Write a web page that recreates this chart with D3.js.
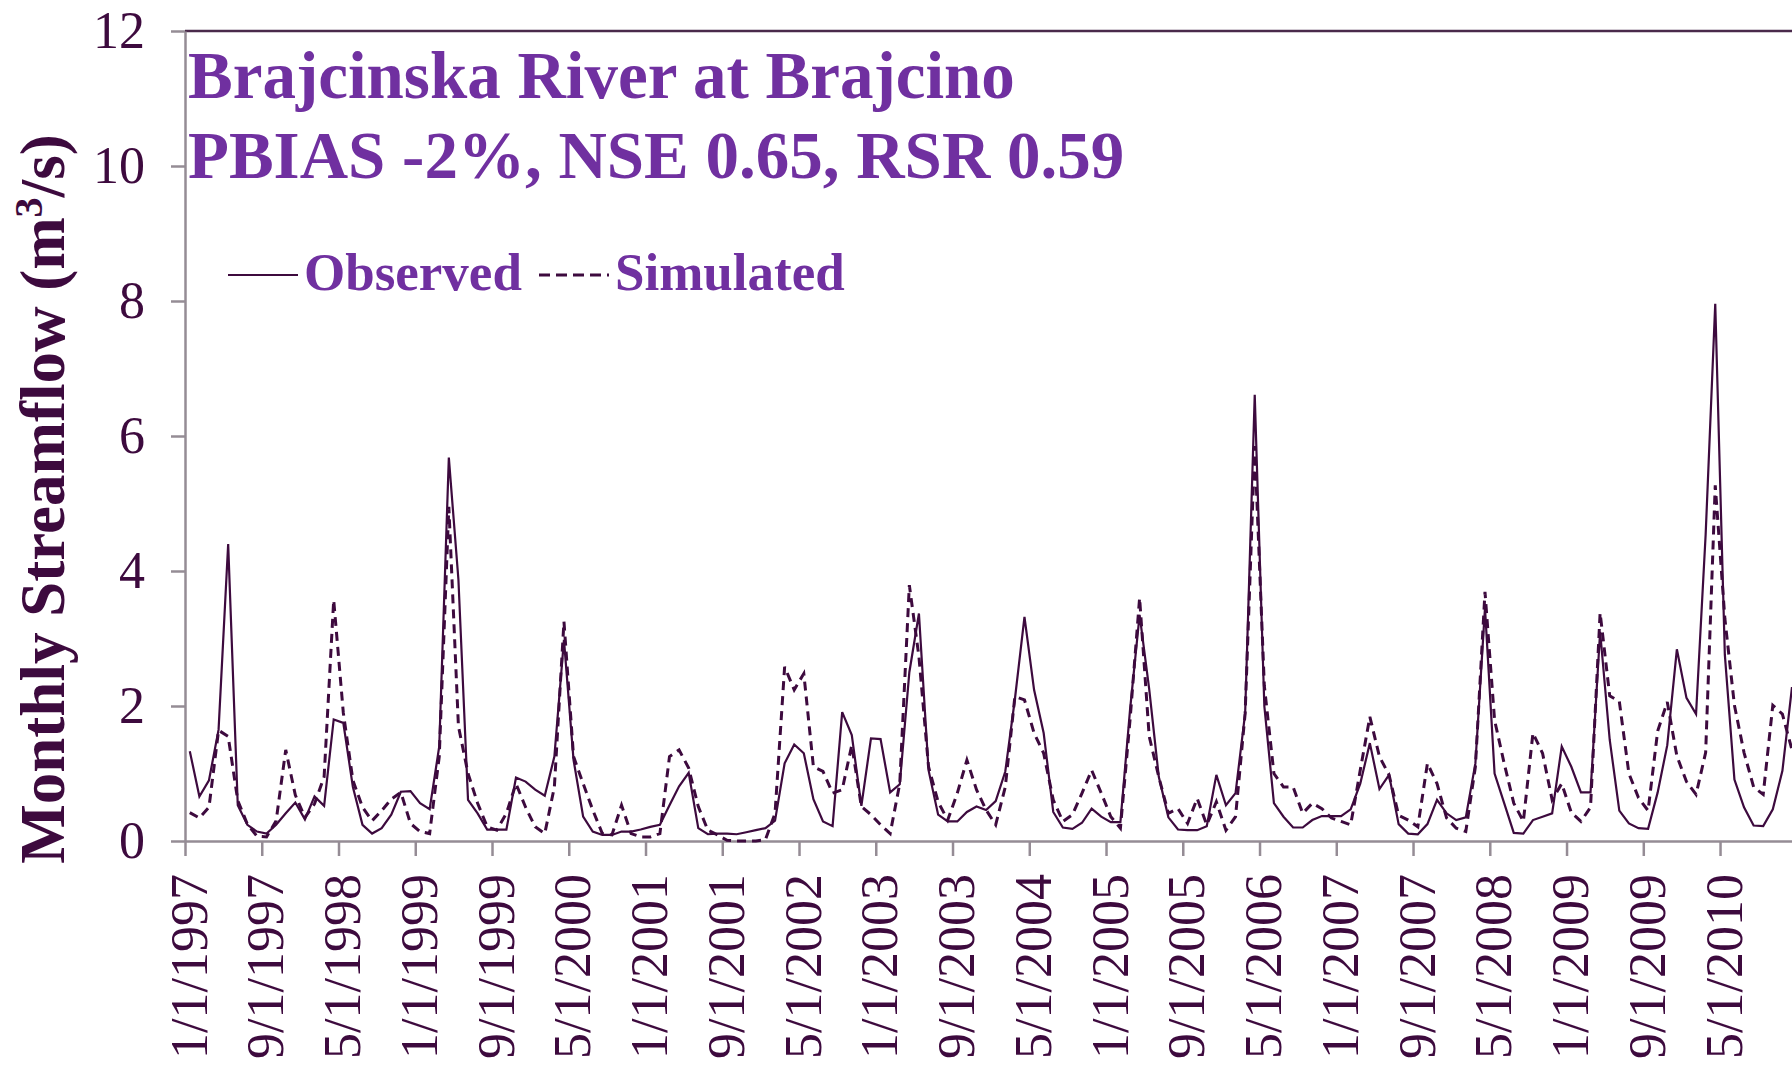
<!DOCTYPE html>
<html>
<head>
<meta charset="utf-8">
<script src="https://cdn.jsdelivr.net/npm/d3@7/dist/d3.min.js"></script>
<style>
  body { margin: 0; background: white; }
  #chart_streamflow { width: 1792px; height: 1065px; }
</style>
</head>
<body>
<div id="chart_streamflow"></div>
<script>
// Monthly streamflow (m3/s), Jan 1997 - Dec 2010
var observed = [
  1.33, 0.66, 0.90, 1.65, 4.40, 0.53, 0.24, 0.14, 0.11, 0.24, 0.41, 0.57,
  0.32, 0.66, 0.52, 1.80, 1.75, 0.80, 0.24, 0.11, 0.19, 0.39, 0.73, 0.74,
  0.56, 0.47, 1.40, 5.68, 3.87, 0.61, 0.41, 0.17, 0.17, 0.17, 0.94, 0.88,
  0.76, 0.67, 1.25, 2.98, 1.20, 0.36, 0.14, 0.09, 0.09, 0.14, 0.14, 0.17,
  0.21, 0.24, 0.53, 0.81, 1.01, 0.19, 0.10, 0.11, 0.11, 0.10, 0.13, 0.16,
  0.19, 0.30, 1.15, 1.43, 1.30, 0.62, 0.29, 0.22, 1.91, 1.57, 0.52, 1.52,
  1.51, 0.72, 0.84, 2.50, 3.37, 1.05, 0.39, 0.29, 0.29, 0.43, 0.51, 0.46,
  0.59, 1.03, 2.10, 3.32, 2.24, 1.60, 0.43, 0.20, 0.18, 0.27, 0.48, 0.36,
  0.28, 0.28, 1.94, 3.35, 2.25, 0.95, 0.35, 0.17, 0.16, 0.16, 0.22, 0.98,
  0.53, 0.71, 1.89, 6.61, 2.00, 0.56, 0.36, 0.20, 0.20, 0.31, 0.37, 0.37,
  0.37, 0.47, 0.85, 1.45, 0.77, 0.98, 0.25, 0.11, 0.10, 0.25, 0.61, 0.41,
  0.31, 0.35, 1.15, 3.45, 1.00, 0.56, 0.12, 0.11, 0.31, 0.36, 0.41, 1.40,
  1.10, 0.72, 0.72, 3.10, 1.50, 0.45, 0.26, 0.19, 0.18, 0.72, 1.42, 2.84,
  2.12, 1.88, 4.54, 7.96, 2.76, 0.91, 0.50, 0.23, 0.22, 0.47, 1.04, 2.28
];
var simulated = [
  0.42, 0.34, 0.50, 1.64, 1.55, 0.60, 0.25, 0.07, 0.06, 0.30, 1.35, 0.68,
  0.35, 0.55, 0.95, 3.57, 1.90, 0.90, 0.50, 0.30, 0.45, 0.62, 0.72, 0.26,
  0.14, 0.11, 1.25, 4.95, 1.70, 1.00, 0.56, 0.21, 0.16, 0.41, 0.85, 0.50,
  0.21, 0.11, 0.80, 3.25, 1.25, 0.85, 0.46, 0.11, 0.09, 0.53, 0.11, 0.06,
  0.06, 0.11, 1.25, 1.35, 1.08, 0.51, 0.16, 0.09, 0.01, 0.00, 0.00, 0.00,
  0.02, 0.41, 2.58, 2.24, 2.48, 1.10, 1.03, 0.71, 0.76, 1.42, 0.51, 0.39,
  0.24, 0.11, 0.85, 3.79, 2.73, 1.10, 0.58, 0.31, 0.71, 1.20, 0.76, 0.46,
  0.24, 0.80, 2.14, 2.09, 1.60, 1.30, 0.61, 0.29, 0.39, 0.71, 1.05, 0.71,
  0.36, 0.19, 1.79, 3.60, 1.55, 0.95, 0.41, 0.48, 0.26, 0.63, 0.24, 0.58,
  0.16, 0.36, 1.89, 5.85, 2.30, 1.00, 0.80, 0.80, 0.41, 0.56, 0.48, 0.34,
  0.29, 0.24, 1.05, 1.84, 1.25, 0.98, 0.38, 0.31, 0.21, 1.15, 0.85, 0.34,
  0.19, 0.14, 1.10, 3.69, 1.79, 1.15, 0.56, 0.29, 1.60, 1.30, 0.61, 0.85,
  0.42, 0.29, 0.50, 3.38, 2.15, 2.07, 1.00, 0.64, 0.45, 1.63, 2.06, 1.26,
  0.88, 0.69, 1.31, 5.27, 3.30, 2.01, 1.31, 0.80, 0.69, 2.01, 1.88, 1.35
];
var tickLabels = [
  "1/1/1997", "9/1/1997", "5/1/1998", "1/1/1999", "9/1/1999", "5/1/2000",
  "1/1/2001", "9/1/2001", "5/1/2002", "1/1/2003", "9/1/2003", "5/1/2004",
  "1/1/2005", "9/1/2005", "5/1/2006", "1/1/2007", "9/1/2007", "5/1/2008",
  "1/1/2009", "9/1/2009", "5/1/2010"
];
var yTicks = [0, 2, 4, 6, 8, 10, 12];
var titleLines = ["Brajcinska River at Brajcino", "PBIAS -2%, NSE 0.65, RSR 0.59"];
var seriesNames = ["Observed", "Simulated"];

var lineColor = "#3d0a3e";
var titleColor = "#7030a0";
var axisColor = "#958c95";
var fontFamily = "'Liberation Serif', 'Times New Roman', serif";

function grafico_caudal(container, props) {
    var svg = container.append("svg")
        .attr("width", props.width)
        .attr("height", props.height)
        .style("display", "block")
        .style("font-family", fontFamily);

    // scales: one category per month, plot starts at x=185
    var monthWidth = 9.594;
    var xScale = d3.scaleLinear()
        .domain([0, observed.length])
        .range([185, 185 + observed.length * monthWidth]);
    var yScale = d3.scaleLinear()
        .domain([0, 12])
        .range([841, 31]);

    // top border of plot area
    svg.append("line")
        .attr("x1", xScale(0)).attr("x2", props.width)
        .attr("y1", yScale(12)).attr("y2", yScale(12))
        .attr("stroke", "#4a2a4b")
        .attr("stroke-width", 2.5);

    // y axis
    var yAxis = d3.axisLeft(yScale)
        .tickValues(yTicks)
        .tickSize(14)
        .tickSizeOuter(0)
        .tickPadding(26)
        .tickFormat(d3.format("d"));
    var yAxisG = svg.append("g")
        .attr("transform", "translate(" + xScale(0) + ",0)")
        .call(yAxis);
    yAxisG.selectAll("path, line").attr("stroke", axisColor).attr("stroke-width", 2.5);
    yAxisG.selectAll("text")
        .attr("fill", lineColor)
        .style("font-size", "52px")
        .style("font-family", fontFamily);

    // x axis, a tick every 8 months
    var xAxis = d3.axisBottom(xScale)
        .tickValues(d3.range(0, observed.length, 8))
        .tickSize(15)
        .tickSizeOuter(0)
        .tickFormat(function(d, i) { return tickLabels[i]; });
    var xAxisG = svg.append("g")
        .attr("transform", "translate(0," + yScale(0) + ")")
        .call(xAxis);
    xAxisG.selectAll("path, line").attr("stroke", axisColor).attr("stroke-width", 2.5);
    xAxisG.selectAll("text")
        .attr("fill", lineColor)
        .attr("transform", "rotate(-90)")
        .attr("text-anchor", "end")
        .attr("x", -33)
        .attr("y", 3)
        .attr("dy", "0.35em")
        .style("font-size", "52px")
        .style("font-family", fontFamily);

    // y axis label
    var ylab = svg.append("text")
        .attr("transform", "translate(64,499) rotate(-90)")
        .attr("text-anchor", "middle")
        .attr("fill", lineColor)
        .style("font-size", "63px")
        .style("font-weight", "bold");
    ylab.append("tspan").text("Monthly Streamflow (m");
    ylab.append("tspan").text("3").attr("baseline-shift", "super").style("font-size", "40px");
    ylab.append("tspan").text("/s)");

    // series
    var line = d3.line()
        .x(function(d, i) { return xScale(i + 0.5); })
        .y(function(d) { return yScale(d); });

    svg.append("path")
        .datum(simulated)
        .attr("fill", "none")
        .attr("stroke", lineColor)
        .attr("stroke-width", 3)
        .attr("stroke-dasharray", "9,6")
        .attr("d", line);

    svg.append("path")
        .datum(observed)
        .attr("fill", "none")
        .attr("stroke", lineColor)
        .attr("stroke-width", 2.2)
        .attr("d", line);

    // title
    svg.selectAll(".chart-title")
        .data(titleLines)
        .enter().append("text")
        .attr("class", "chart-title")
        .attr("x", 188)
        .attr("y", function(d, i) { return 98 + i * 80; })
        .attr("fill", titleColor)
        .style("font-size", "67px")
        .style("font-weight", "bold")
        .text(function(d) { return d; });

    // legend
    var legendData = [
        { label: seriesNames[0], x: 228, dash: null },
        { label: seriesNames[1], x: 539, dash: "11,6" }
    ];
    var legend = svg.append("g").attr("class", "legend");
    legend.selectAll("line")
        .data(legendData)
        .enter().append("line")
        .attr("x1", function(d) { return d.x; })
        .attr("x2", function(d) { return d.x + 70; })
        .attr("y1", 275).attr("y2", 275)
        .attr("stroke", lineColor)
        .attr("stroke-width", function(d) { return d.dash ? 3 : 2.2; })
        .attr("stroke-dasharray", function(d) { return d.dash; });
    legend.selectAll("text")
        .data(legendData)
        .enter().append("text")
        .attr("x", function(d) { return d.x + 76; })
        .attr("y", 290)
        .attr("fill", titleColor)
        .style("font-size", "53px")
        .style("font-weight", "bold")
        .text(function(d) { return d.label; });
}

grafico_caudal(d3.select("#chart_streamflow"), { width: 1792, height: 1065 });
</script>
</body>
</html>
